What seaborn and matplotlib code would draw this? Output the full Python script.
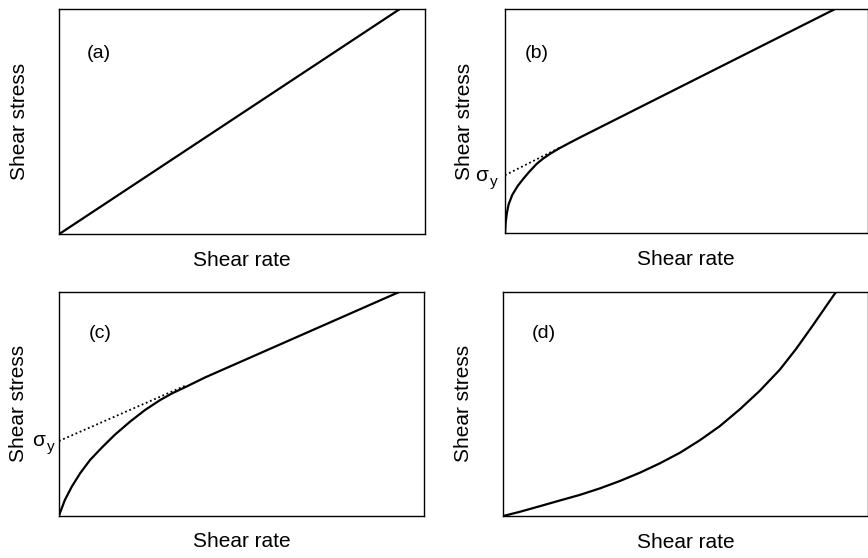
import matplotlib
matplotlib.use("Agg")
import matplotlib.pyplot as plt
import seaborn as sns
import pandas as pd

# ---- data (fractions of each panel's axis range) ----
a_rate = [0.0, 0.93]
a_stress = [0.0, 1.0]

b_rate = [0.0, 0.002, 0.005, 0.010, 0.020, 0.035, 0.050, 0.064, 0.087, 0.105,
          0.125, 0.150, 0.180, 0.210, 0.909]
b_stress = [0.0, 0.050, 0.090, 0.130, 0.172, 0.212, 0.243, 0.270, 0.310, 0.334,
            0.356, 0.380, 0.406, 0.431, 1.0]
b_sigma_y = 0.26
b_tangent = [0.15, 0.382]

c_rate = [0.0, 0.016, 0.035, 0.058, 0.085, 0.117, 0.153, 0.195, 0.236, 0.277,
          0.310, 0.350, 0.400, 0.933]
c_stress = [0.0, 0.069, 0.129, 0.189, 0.248, 0.303, 0.361, 0.420, 0.472, 0.516,
            0.546, 0.577, 0.617, 1.0]
c_sigma_y = 0.333
c_tangent = [0.35, 0.583]

d_rate = [0.0, 0.046, 0.101, 0.155, 0.210, 0.265, 0.320, 0.375, 0.430, 0.485,
          0.539, 0.594, 0.649, 0.704, 0.759, 0.804, 0.850, 0.887, 0.914]
d_stress = [0.0, 0.019, 0.044, 0.069, 0.094, 0.123, 0.156, 0.193, 0.235, 0.282,
            0.337, 0.400, 0.475, 0.558, 0.652, 0.745, 0.850, 0.937, 1.0]

panel_labels = ["(a)", "(b)", "(c)", "(d)"]
xlabel = "Shear rate"
ylabel = "Shear stress"

sns.set_theme(style="white")
plt.rcParams["font.family"] = ["Liberation Sans", "DejaVu Sans"]
plt.rcParams["lines.solid_capstyle"] = "round"
plt.rcParams["lines.solid_joinstyle"] = "round"

fig = plt.figure(figsize=(8.68, 5.58), dpi=100)
W, H = 868.0, 558.0


def make_ax(left, top, right, bottom):
    return fig.add_axes([left / W, 1 - bottom / H, (right - left) / W, (bottom - top) / H])


axes = [
    make_ax(59.3, 9.3, 425.0, 234.0),
    make_ax(505.0, 9.3, 867.5, 233.5),
    make_ax(59.0, 291.7, 424.3, 515.5),
    make_ax(503.3, 291.7, 867.5, 516.0),
]

curves = [(a_rate, a_stress), (b_rate, b_stress), (c_rate, c_stress), (d_rate, d_stress)]
label_pos = [(0.109, 0.804), (0.087, 0.804), (0.112, 0.814), (0.11, 0.814)]

for ax, (xr, ys), lab, (lx, ly) in zip(axes, curves, panel_labels, label_pos):
    df = pd.DataFrame({"rate": xr, "stress": ys})
    sns.lineplot(data=df, x="rate", y="stress", ax=ax, sort=False, estimator=None,
                 color="black", linewidth=1.6)
    ax.set_xlim(0, 1)
    ax.set_ylim(0, 1)
    ax.set_xticks([])
    ax.set_yticks([])
    for s in ax.spines.values():
        s.set_visible(True)
        s.set_color("black")
        s.set_linewidth(1.0)
    ax.text(lx, ly, lab, transform=ax.transAxes, fontsize=14, ha="center", va="center",
            color="black")

# dotted extrapolations to the yield stress
for ax, sig, tan, sx, yx, ydy in [
    (axes[1], b_sigma_y, b_tangent, -12, -5, -4.8),
    (axes[2], c_sigma_y, c_tangent, -10, -3, -4.0),
]:
    dd = pd.DataFrame({"rate": [0.0, tan[0]], "stress": [sig, tan[1]]})
    sns.lineplot(data=dd, x="rate", y="stress", ax=ax, sort=False, estimator=None,
                 color="black", linewidth=1.3, linestyle=(0, (1, 1.5)))
    ax.annotate("σ", xy=(0, sig), xytext=(sx, 0), textcoords="offset points",
                ha="right", va="center", fontsize=15, color="black", annotation_clip=False)
    ax.annotate("y", xy=(0, sig), xytext=(yx, ydy), textcoords="offset points",
                ha="right", va="center", fontsize=11, color="black", annotation_clip=False)

for ax in axes:
    ax.set_xlabel(xlabel, fontsize=15, labelpad=12, color="black")
    ax.set_ylabel(ylabel, fontsize=15, labelpad=22, color="black")

fig.savefig("out.png", dpi=100)
